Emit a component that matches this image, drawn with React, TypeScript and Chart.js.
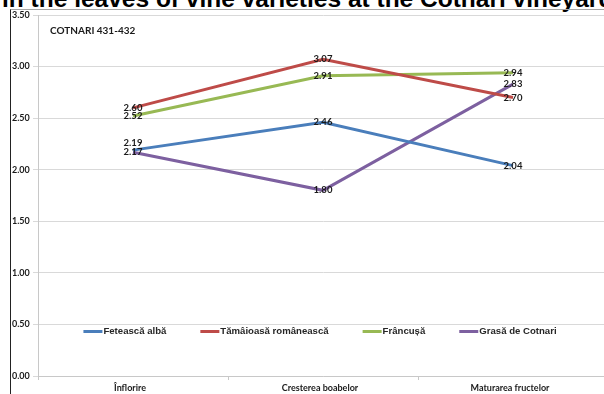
import { useEffect, useRef } from "react";
import { Chart, registerables } from "chart.js";

Chart.register(...registerables);

// Growth stages on the category axis
const stages = ["Înflorire", "Cresterea boabelor", "Maturarea fructelor"];

// Grape varieties (one line each)
const varieties = ["Fetească albă", "Tămâioasă românească", "Frâncușă", "Grasă de Cotnari"];
const feteascaAlba = [2.19, 2.46, 2.04];
const tamaioasaRomaneasca = [2.6, 3.07, 2.7];
const francusa = [2.52, 2.91, 2.94];
const grasaDeCotnari = [2.17, 1.8, 2.83];

// Value axis
const yMin = 0;
const yMax = 3.5;
const yStep = 0.5;

const chartTitle = "COTNARI 431-432";
const pageTitle = "in the leaves of vine varieties at the Cotnari vineyard";

const seriesColors = ["#4A7EBB", "#BE4B48", "#98B954", "#7D60A0"];
// vertical nudge (px) of each value label, per series and stage
const labelNudge = [
  [-7, 0, 0],
  [0, 0, 0],
  [0, 0, 0],
  [0, 0, 0],
];

const valueLabelsPlugin = {
  id: "valueLabels",
  afterDatasetsDraw(chart: any) {
    const ctx = chart.ctx;
    ctx.save();
    ctx.font = "bold 9.5px Lato";
    ctx.fillStyle = "#1a1a1a";
    ctx.textAlign = "center";
    ctx.textBaseline = "middle";
    chart.data.datasets.forEach((ds: any, di: number) => {
      const meta = chart.getDatasetMeta(di);
      meta.data.forEach((pt: any, i: number) => {
        const v = ds.data[i] as number;
        ctx.fillText(v.toFixed(2), pt.x, pt.y + (labelNudge[di]?.[i] ?? 0));
      });
    });
    ctx.restore();
  },
};

const innerLegendPlugin = {
  id: "innerLegend",
  afterDraw(chart: any) {
    const ctx = chart.ctx;
    const area = chart.chartArea;
    const marker = 19;
    const gap = 34;
    ctx.save();
    ctx.font = "bold 9.6px 'Liberation Sans'";
    const items = chart.data.datasets.map((ds: any) => ({
      text: ds.label as string,
      color: ds.borderColor as string,
      w: marker + 1 + ctx.measureText(ds.label).width,
    }));
    const total = items.reduce((s: number, it: any) => s + it.w, 0) + gap * (items.length - 1);
    let x = (area.left + area.right) / 2 - 3 - total / 2;
    const y = area.bottom - 45;
    ctx.textBaseline = "middle";
    ctx.textAlign = "left";
    items.forEach((it: any) => {
      ctx.strokeStyle = it.color;
      ctx.lineWidth = 3;
      ctx.beginPath();
      ctx.moveTo(x, y + 0.5);
      ctx.lineTo(x + marker, y + 0.5);
      ctx.stroke();
      ctx.fillStyle = "#262626";
      ctx.fillText(it.text, x + marker + 1, y);
      x += it.w + gap;
    });
    ctx.restore();
  },
};

const innerTitlePlugin = {
  id: "innerTitle",
  afterDraw(chart: any) {
    const ctx = chart.ctx;
    const area = chart.chartArea;
    ctx.save();
    ctx.font = "bold 10px Lato";
    ctx.fillStyle = "#1a1a1a";
    ctx.textAlign = "left";
    ctx.textBaseline = "middle";
    ctx.fillText(chartTitle, area.left + 12, area.top + 16);
    ctx.restore();
  },
};

function LineChart() {
  const canvasRef = useRef<HTMLCanvasElement | null>(null);

  useEffect(() => {
    const series = [feteascaAlba, tamaioasaRomaneasca, francusa, grasaDeCotnari];
    const chart = new Chart(canvasRef.current as HTMLCanvasElement, {
      type: "line",
      data: {
        labels: stages,
        datasets: series.map((data, i) => ({
          label: varieties[i],
          data,
          borderColor: seriesColors[i],
          backgroundColor: seriesColors[i],
          borderWidth: 3,
          pointRadius: 0,
          tension: 0,
          fill: false,
        })),
      },
      options: {
        responsive: false,
        devicePixelRatio: 1,
        animation: false,
        events: [],
        layout: { padding: { left: 1, right: 0, top: 0, bottom: 0 } },
        plugins: {
          legend: { display: false },
          tooltip: { enabled: false },
          title: { display: false },
        },
        scales: {
          x: {
            type: "category",
            offset: true,
            grid: {
              offset: true,
              drawOnChartArea: false,
              drawTicks: true,
              tickLength: 4,
              color: "#c8c8c8",
            },
            border: { color: "#c8c8c8" },
            ticks: {
              font: { family: "Lato", size: 9, weight: "bold" },
              color: "#1a1a1a",
              padding: 3,
              labelOffset: -3,
              maxRotation: 0,
              autoSkip: false,
            },
            afterFit: (s: any) => {
              s.height = 18;
            },
          },
          y: {
            min: yMin,
            max: yMax,
            grid: { color: "#d9d9d9", tickLength: 5 },
            border: { color: "#c8c8c8" },
            ticks: {
              stepSize: yStep,
              crossAlign: "far",
              font: { family: "Lato", size: 9, weight: "bold" },
              color: "#1a1a1a",
              callback: (v: any) => Number(v).toFixed(2),
            },
            afterFit: (s: any) => {
              s.width = 26;
              s.paddingTop = 5;
              s.paddingBottom = 0;
            },
          },
        },
      },
      plugins: [valueLabelsPlugin, innerLegendPlugin, innerTitlePlugin],
    });
    return () => chart.destroy();
  }, []);

  return <canvas ref={canvasRef} width={597} height={384} style={{ display: "block" }} />;
}

export default function App() {
  useEffect(() => {
    document.body.style.margin = "0";
  }, []);
  return (
    <div
      style={{
        position: "relative",
        width: 604,
        height: 394,
        overflow: "hidden",
        background: "#fff",
      }}
    >
      <div
        style={{
          position: "absolute",
          left: 2,
          top: -13.5,
          whiteSpace: "nowrap",
          fontFamily: "'Liberation Sans', Arial, sans-serif",
          fontWeight: "bold",
          fontSize: 24.5,
          lineHeight: "24.5px",
          color: "#000",
        }}
      >
        {pageTitle}
      </div>
      <div
        style={{
          position: "absolute",
          left: 10,
          top: 9,
          borderLeft: "1px solid #222",
          borderTop: "1px solid #a6a6a6",
        }}
      >
        <LineChart />
      </div>
    </div>
  );
}
